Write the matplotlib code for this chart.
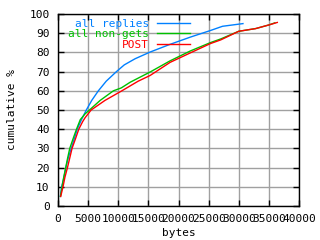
import matplotlib
matplotlib.use('Agg')
import matplotlib.pyplot as plt

# curvas acumuladas (bytes, % acumulado)
replies_bytes = [400, 600, 1000, 1300, 1700, 2200, 2700, 3200, 3900, 4700, 5600, 6700,
                 8000, 9700, 11000, 12800, 15300, 18600, 22000, 25300, 27300, 30700]
replies_pct = [5, 10, 15, 20, 25, 30, 35, 40, 45, 50, 55, 60,
               65, 70, 73.5, 76.7, 80.2, 84.2, 88, 91.4, 93.6, 95]

nongets_bytes = [400, 670, 950, 1280, 1600, 1950, 2500, 3070, 3700, 4500, 5400, 7000, 9200,
                 10500, 12000, 15300, 18600, 22000, 25300, 27000, 30000, 32800, 35000, 36000]
nongets_pct = [5, 10, 15, 20, 25, 30, 35, 40, 45, 48, 50.5, 55, 60,
               61.5, 64.5, 69.8, 75.6, 80.8, 85.1, 87, 91, 92.4, 94.3, 95.4]

post_bytes = [450, 830, 1150, 1570, 1950, 2330, 2900, 3450, 4100, 4500, 5500, 7800, 10600,
              13300, 15300, 18600, 22000, 25300, 27000, 30000, 32800, 35000, 36400]
post_pct = [5, 10, 15, 20, 25, 30, 35, 40, 44, 46, 50, 55, 60,
            65, 68, 74.8, 79.8, 84.6, 86.5, 91, 92.4, 94.3, 95.6]

x_ticks = list(range(0, 40001, 5000))
y_ticks = list(range(0, 101, 10))

plt.rcParams['font.family'] = ['DejaVu Sans Mono']

fig = plt.figure(figsize=(3.2, 2.4), dpi=100)
ax = fig.add_axes([58 / 320, 34 / 240, 241 / 320, 192 / 240])

ax.plot(replies_bytes, replies_pct, color='#0080ff', lw=1, label='all replies')
ax.plot(nongets_bytes, nongets_pct, color='#00c000', lw=1, label='all non-gets')
ax.plot(post_bytes, post_pct, color='#ff0000', lw=1, label='POST')

ax.set_xlim(0, 40000)
ax.set_ylim(0, 100)
ax.set_xticks(x_ticks)
ax.set_yticks(y_ticks)
ax.tick_params(direction='in', length=4, width=1, top=True, right=True,
               labelsize=8, pad=6, colors='black')
ax.grid(True, color='#a0a0a0', lw=1, ls='-')
ax.set_axisbelow(True)
for s in ax.spines.values():
    s.set_linewidth(1)
    s.set_color('black')

ax.set_xlabel('bytes', fontsize=8, labelpad=3)
ax.set_ylabel('cumulative %', fontsize=8, labelpad=9)

leg = ax.legend(loc='upper right', bbox_to_anchor=((190 - 58) / 241, 0.975),
                frameon=False, markerfirst=False, fontsize=8,
                handlelength=3.0, handletextpad=0.7, labelspacing=0.05,
                borderpad=0, borderaxespad=0)
for t, c in zip(leg.get_texts(), ['#0080ff', '#00c000', '#ff0000']):
    t.set_color(c)

fig.savefig('out.png', dpi=100)
